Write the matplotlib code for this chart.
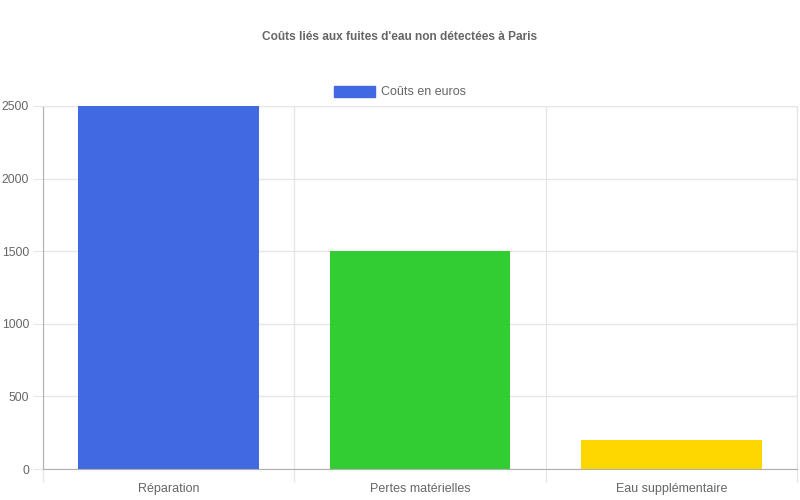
import matplotlib.pyplot as plt
from matplotlib.patches import Patch

categories = ["Réparation", "Pertes matérielles", "Eau supplémentaire"]
costs = [2500, 1500, 200]
bar_colors = ["#4169E1", "#32CD32", "#FFD700"]
y_ticks = [0, 500, 1000, 1500, 2000, 2500]

plt.rcParams["font.family"] = ["Liberation Sans", "DejaVu Sans"]
text_grey = "#666666"

fig = plt.figure(figsize=(8, 5), dpi=100)
ax = fig.add_axes([43 / 800, 31 / 500, 754 / 800, 363 / 500])

x = list(range(len(categories)))
ax.bar(x, costs, width=0.72, color=bar_colors, zorder=3)

ax.set_xlim(-0.5, len(categories) - 0.5)
ax.set_ylim(0, 2500)

# category labels on major ticks, grid lines on minor ticks between them
ax.set_xticks(x)
ax.set_xticklabels(categories)
ax.set_xticks([i - 0.5 for i in range(len(categories) + 1)], minor=True)
ax.tick_params(axis="x", which="major", length=0, pad=10, labelsize=9, labelcolor=text_grey)
ax.tick_params(axis="x", which="minor", length=9, color="#e6e6e6", width=1)
ax.grid(axis="x", which="minor", color="#e6e6e6", linewidth=1, zorder=0)

ax.set_yticks(y_ticks)
ax.tick_params(axis="y", length=7, color="#e6e6e6", labelsize=8.8, labelcolor=text_grey, pad=3)
ax.grid(axis="y", color="#e6e6e6", linewidth=1, zorder=0)

for side in ["top", "right"]:
    ax.spines[side].set_color("#e6e6e6")
for side in ["left", "bottom"]:
    ax.spines[side].set_color("#b0b0b0")

fig.text(0.5, 1 - 37 / 500, "Coûts liés aux fuites d'eau non détectées à Paris",
         ha="center", va="center", fontsize=8.6, fontweight="bold", color=text_grey)

handle = Patch(facecolor="#4169E1", edgecolor="#4169E1", label="Coûts en euros")
fig.legend(handles=[handle], loc="center", bbox_to_anchor=(0.5, 1 - 92 / 500),
           frameon=False, fontsize=9, labelcolor=text_grey,
           handlelength=3.3, handleheight=1.0, handletextpad=0.5)

fig.savefig("out.png", dpi=100)
